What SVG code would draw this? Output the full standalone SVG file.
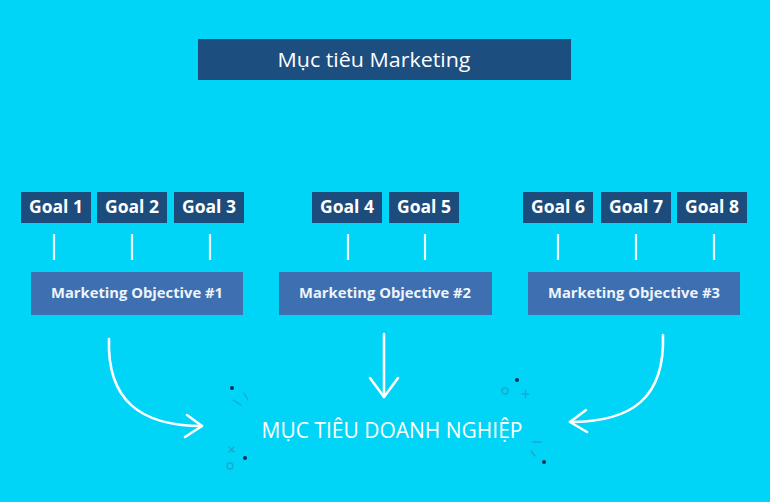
<svg xmlns="http://www.w3.org/2000/svg" width="770" height="502" viewBox="0 0 770 502">
<style>
.goal rect{fill:#1b4c7c}
.goal text{font-family:"Open Sans","Noto Sans",sans-serif;font-weight:700;font-size:17px;fill:#ffffff;text-anchor:middle}
.obj rect{fill:#3e6fb0}
.obj text{font-family:"Open Sans","Noto Sans",sans-serif;font-weight:700;font-size:14.5px;fill:#eef4fb;text-anchor:middle}
.link{stroke:#e8fbff;stroke-width:2.2;fill:none}
.arrow{stroke:#ffffff;stroke-width:2.6;fill:none;stroke-linecap:round;stroke-linejoin:round}
.deco{stroke:#1a9fc4;stroke-width:1.3;fill:none;stroke-linecap:round;opacity:0.8}
.dot{fill:#0d2f5a}
</style>
<rect x="0" y="0" width="770" height="502" fill="#00d5f7"/>
<g id="title">
<rect x="198" y="39" width="373" height="41" fill="#1c4e80"/>
<text x="374" y="67" font-family="'Open Sans','Noto Sans',sans-serif" font-size="20" fill="#ffffff" text-anchor="middle" textLength="193" lengthAdjust="spacingAndGlyphs">Mục tiêu Marketing</text>
</g>
<g id="goal1" class="goal"><rect x="21" y="192" width="70" height="31"/><text x="56" y="213" textLength="54" lengthAdjust="spacingAndGlyphs">Goal 1</text></g>
<g id="goal2" class="goal"><rect x="97" y="192" width="70" height="31"/><text x="132" y="213" textLength="54" lengthAdjust="spacingAndGlyphs">Goal 2</text></g>
<g id="goal3" class="goal"><rect x="174" y="192" width="70" height="31"/><text x="209" y="213" textLength="54" lengthAdjust="spacingAndGlyphs">Goal 3</text></g>
<g id="goal4" class="goal"><rect x="312" y="192" width="70" height="31"/><text x="347" y="213" textLength="54" lengthAdjust="spacingAndGlyphs">Goal 4</text></g>
<g id="goal5" class="goal"><rect x="389" y="192" width="70" height="31"/><text x="424" y="213" textLength="54" lengthAdjust="spacingAndGlyphs">Goal 5</text></g>
<g id="goal6" class="goal"><rect x="523" y="192" width="70" height="31"/><text x="558" y="213" textLength="54" lengthAdjust="spacingAndGlyphs">Goal 6</text></g>
<g id="goal7" class="goal"><rect x="601" y="192" width="70" height="31"/><text x="636" y="213" textLength="54" lengthAdjust="spacingAndGlyphs">Goal 7</text></g>
<g id="goal8" class="goal"><rect x="677" y="192" width="70" height="31"/><text x="712" y="213" textLength="54" lengthAdjust="spacingAndGlyphs">Goal 8</text></g>
<g id="objective1" class="obj"><rect x="31" y="272" width="212" height="43"/><text x="137" y="298" textLength="172" lengthAdjust="spacingAndGlyphs">Marketing Objective #1</text></g>
<g id="objective2" class="obj"><rect x="279" y="272" width="213" height="43"/><text x="385" y="298" textLength="172" lengthAdjust="spacingAndGlyphs">Marketing Objective #2</text></g>
<g id="objective3" class="obj"><rect x="528" y="272" width="212" height="43"/><text x="634" y="298" textLength="172" lengthAdjust="spacingAndGlyphs">Marketing Objective #3</text></g>
<g id="business-goal">
<text x="392" y="438" font-family="'Open Sans','Noto Sans',sans-serif" font-size="21" fill="#ffffff" text-anchor="middle" textLength="261" lengthAdjust="spacingAndGlyphs">MỤC TIÊU DOANH NGHIỆP</text>
</g>
<g id="connectors">
<line class="link" x1="54" y1="234" x2="54" y2="260"/>
<line class="link" x1="132" y1="234" x2="132" y2="260"/>
<line class="link" x1="210" y1="234" x2="210" y2="260"/>
<line class="link" x1="348" y1="234" x2="348" y2="260"/>
<line class="link" x1="425" y1="234" x2="425" y2="260"/>
<line class="link" x1="558" y1="234" x2="558" y2="260"/>
<line class="link" x1="636" y1="234" x2="636" y2="260"/>
<line class="link" x1="714" y1="234" x2="714" y2="260"/>
<path class="arrow" d="M109,339 C107,400 140,426 202,426"/>
<path class="arrow" d="M187,415 L202,426 L185,437"/>
<path class="arrow" d="M384,334 L384,397"/>
<path class="arrow" d="M370,378 L384,397 L398,378"/>
<path class="arrow" d="M663,335 C665,398 632,422 570,422"/>
<path class="arrow" d="M586,410 L570,422 L587,432"/>
</g>
<g id="decorations">
<circle class="dot" cx="232" cy="388" r="2"/>
<line class="deco" x1="233" y1="400" x2="241" y2="405"/>
<line class="deco" x1="244" y1="393" x2="248" y2="400"/>
<path class="deco" d="M229,447 L234,452 M234,447 L229,452"/>
<circle class="dot" cx="245" cy="458" r="2"/>
<circle class="deco" cx="230" cy="466" r="3"/>
<circle class="deco" cx="505" cy="391" r="3"/>
<circle class="dot" cx="517" cy="380" r="2"/>
<path class="deco" d="M522,394 L529,394 M525.5,390.5 L525.5,397.5"/>
<line class="deco" x1="533" y1="442" x2="541" y2="442"/>
<line class="deco" x1="531" y1="451" x2="535" y2="456"/>
<circle class="dot" cx="544" cy="462" r="2"/>
</g>
</svg>
